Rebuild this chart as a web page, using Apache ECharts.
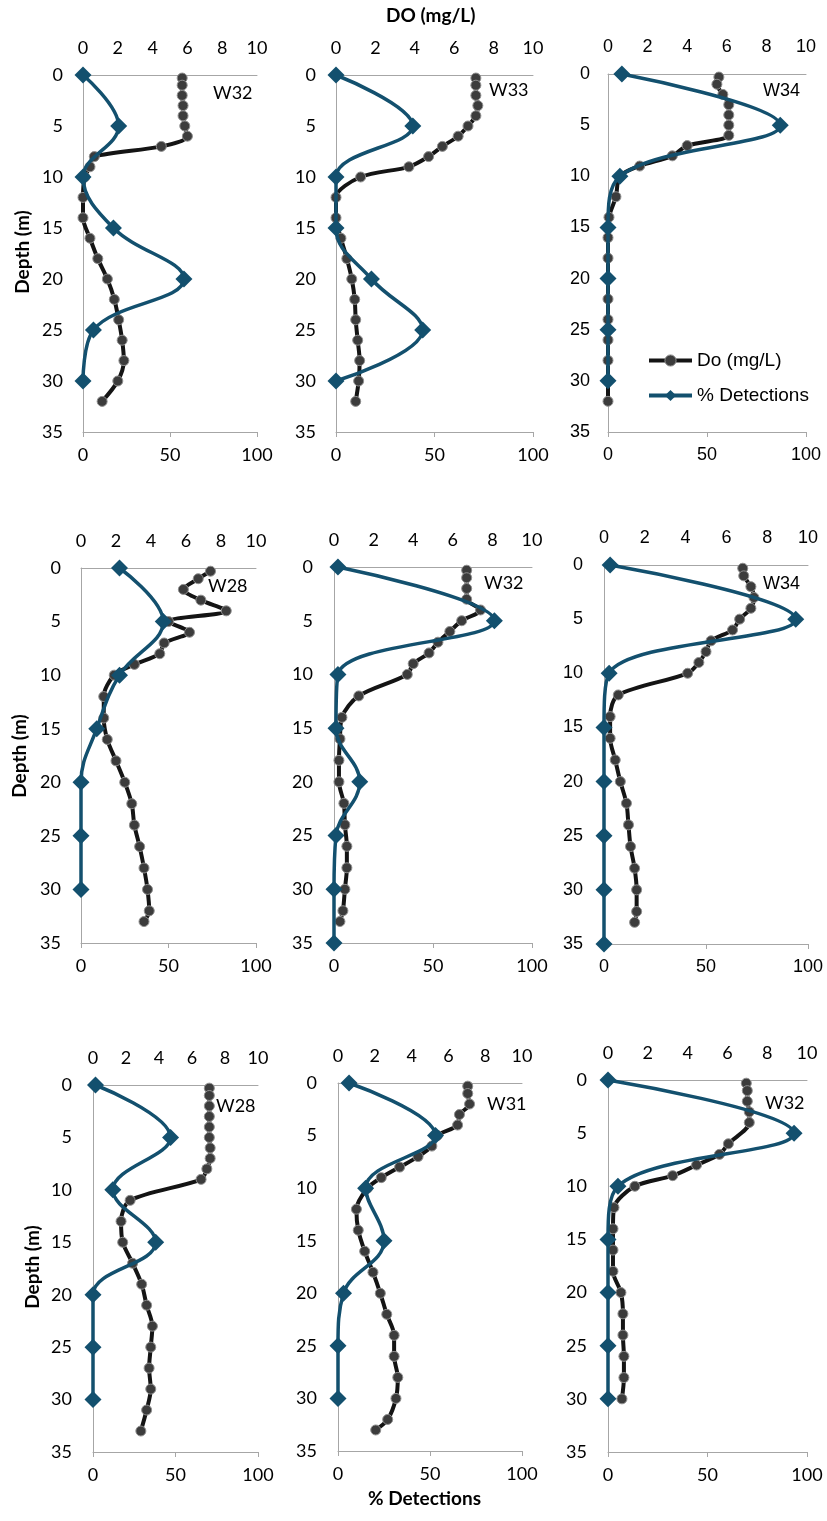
<!DOCTYPE html>
<html><head><meta charset="utf-8">
<script src="https://cdn.jsdelivr.net/npm/echarts@6/dist/echarts.min.js"></script>
<style>html,body{margin:0;padding:0;background:#fff}#c{width:827px;height:1521px}</style>
</head><body><div id="c"></div><script>
// ---- data ----
const panelLabels = ['W32','W33','W34','W28','W32','W34','W28','W31','W32'];
const doTicks = [0,2,4,6,8,10];
const detTicks = [0,50,100];
const depthTicks = [0,5,10,15,20,25,30,35];

const detDepths = [0,5,10,15,20,25,30];
const detDepths35 = [0,5,10,15,20,25,30,35];

const doDepthA = [0.3,1,2,3,4,5,6,7,8,9,10,12,14,16,18,20,22,24,26,28,30,32];
const doDepthB = [0.3,1,2,3,4,5,6,7,8,9,10,12,14,16,18,20,22,24,26,28,30,32,33];
const doDepthC = [0.3,1,2,3,4,5,6,7,8,9,11,13,15,17,19,21,23,25,27,29,31,33];
const doDepthD = [0.3,1,2,3,4,6,7,8,9,10,12,14,16,18,20,22,24,26,28,30];

const p1DO = [5.7,5.7,5.7,5.75,5.75,5.85,6.0,4.5,0.65,0.4,0.1,0.0,0.0,0.4,0.85,1.4,1.8,2.05,2.25,2.35,2.0,1.1];
const p1Det = [0,20.5,0,17.5,58,6,0];
const p2DO = [7.1,7.1,7.1,7.2,7.1,6.7,6.2,5.4,4.7,3.7,1.25,0,0,0.25,0.55,0.8,0.95,1.0,1.1,1.2,1.15,1.0];
const p2Det = [0,39,0,0,18,44,0];
const p3DO = [5.6,5.5,5.8,6.1,6.1,6.1,6.1,4.0,3.25,1.6,0.6,0.4,0.05,0,0,0,0,0,0,0,0,0];
const p3Det = [7,87,6,0,0,0,0];
const p4DO = [7.4,6.7,5.85,6.85,8.3,5.0,6.2,4.75,4.5,3.05,1.9,1.3,1.3,1.5,2.0,2.5,2.9,3.05,3.35,3.6,3.8,3.9,3.6];
const p4Det = [22,47,22,9,0,0,0];
const p5DO = [6.7,6.7,6.7,6.7,7.4,6.45,5.85,5.25,4.8,4.0,3.7,1.25,0.4,0.3,0.25,0.25,0.5,0.55,0.65,0.65,0.55,0.45,0.3];
const p5Det = [2,81,2,1,13,1,0,0];
const p6DO = [6.8,6.85,7.2,7.35,7.2,6.65,6.3,5.25,5.0,4.65,4.1,0.7,0.3,0.3,0.55,0.8,1.1,1.2,1.3,1.5,1.6,1.6,1.5];
const p6Det = [3,94,2.5,0,0,0,0,0];
const p7DO = [7.05,7.05,7.05,7.05,7.05,7.05,7.1,7.1,6.9,6.55,2.25,1.7,1.8,2.4,2.95,3.25,3.6,3.5,3.4,3.5,3.25,2.9];
const p7Det = [1.5,47,12,38,0,0,0];
const p8DO = [7.05,7.05,7.15,6.6,6.5,5.4,5.1,4.35,3.35,2.35,1.6,1.0,1.1,1.45,1.9,2.3,2.65,3.05,3.05,3.25,3.15,2.7,2.05];
const p8Det = [6,53,15,25,3,0,0];
const p9DO = [6.95,7.0,7.0,7.1,7.1,6.05,5.6,4.45,3.25,1.35,0.3,0.25,0.25,0.25,0.65,0.75,0.75,0.8,0.8,0.7];
const p9Det = [0,93.5,5,0,0,0,0];

const panels = [
  {doD: doDepthA, doV: p1DO, detD: detDepths, detV: p1Det},
  {doD: doDepthA, doV: p2DO, detD: detDepths, detV: p2Det},
  {doD: doDepthA, doV: p3DO, detD: detDepths, detV: p3Det},
  {doD: doDepthB, doV: p4DO, detD: detDepths, detV: p4Det},
  {doD: doDepthB, doV: p5DO, detD: detDepths35, detV: p5Det},
  {doD: doDepthB, doV: p6DO, detD: detDepths35, detV: p6Det},
  {doD: doDepthC, doV: p7DO, detD: detDepths, detV: p7Det},
  {doD: doDepthB, doV: p8DO, detD: detDepths, detV: p8Det},
  {doD: doDepthD, doV: p9DO, detD: detDepths, detV: p9Det}
];

// ---- layout ----
const layout = [
  {left:83, top:75, width:174, height:357, ym:20, font:'Lato', lx:233, ly:95},
  {left:336, top:75, width:197, height:357, ym:20, font:'Lato', lx:509, ly:92},
  {left:608, top:74, width:198, height:358, ym:18, font:'Liberation Sans', lx:783, ly:93},
  {left:81, top:568, width:175, height:375, ym:20, font:'Lato', lx:228, ly:588},
  {left:334, top:567, width:198, height:376, ym:21, font:'Lato', lx:504, ly:585},
  {left:604, top:565, width:204, height:379, ym:21, font:'Liberation Sans', lx:783, ly:586},
  {left:93, top:1085, width:165, height:367, ym:21, font:'Lato', lx:236, ly:1108},
  {left:338, top:1083, width:184, height:368, ym:21, font:'Lato', lx:507, ly:1106},
  {left:608, top:1080, width:199, height:372, ym:21, font:'Lato', lx:785, ly:1105}
];

const axisGray = '#a6a6a6';
const blue = '#13506e';
const grid = [], xAxis = [], yAxis = [], series = [], graphic = [];

layout.forEach((L, i) => {
  grid.push({left:L.left, top:L.top, width:L.width, height:L.height, containLabel:false});
  const lab = {fontFamily:L.font, fontSize:18, color:'#000'};
  xAxis.push({gridIndex:i, type:'value', position:'bottom', min:detTicks[0], max:detTicks[detTicks.length-1], interval:detTicks[1]-detTicks[0],
    axisLine:{show:true, onZero:false, lineStyle:{color:axisGray, width:1}},
    axisTick:{show:true, length:5, lineStyle:{color:axisGray}},
    splitLine:{show:false}, axisLabel:Object.assign({margin:14}, lab)});
  xAxis.push({gridIndex:i, type:'value', position:'top', min:doTicks[0], max:doTicks[doTicks.length-1], interval:doTicks[1]-doTicks[0],
    axisLine:{show:true, onZero:false, lineStyle:{color:axisGray, width:1}},
    axisTick:{show:false}, splitLine:{show:false}, axisLabel:Object.assign({margin:18}, lab)});
  yAxis.push({gridIndex:i, type:'value', inverse:true, min:depthTicks[0], max:depthTicks[depthTicks.length-1], interval:depthTicks[1]-depthTicks[0],
    axisLine:{show:true, onZero:false, lineStyle:{color:axisGray, width:1}},
    axisTick:{show:false}, splitLine:{show:false}, axisLabel:Object.assign({margin:L.ym}, lab)});
  const P = panels[i];
  series.push({name:'Do (mg/L)', type:'line', xAxisIndex:2*i+1, yAxisIndex:i, smooth:0.3, clip:false,
    data:P.doV.map((v,k)=>[v, P.doD[k]]),
    symbol:'circle', symbolSize:10, lineStyle:{color:'#141414', width:4},
    itemStyle:{color:'#3c3c3c', borderColor:'#8f8f8f', borderWidth:1}, z:2});
  series.push({name:'% Detections', type:'line', xAxisIndex:2*i, yAxisIndex:i, smooth:0.4, clip:false,
    data:P.detV.map((v,k)=>[v, P.detD[k]]),
    symbol:'diamond', symbolSize:17, lineStyle:{color:blue, width:3.5},
    itemStyle:{color:blue}, z:3});
  graphic.push({type:'text', left:L.lx - 20, top:L.ly - 11, style:{text:panelLabels[i], font:'18px "' + L.font + '"', fill:'#000'}});
});

graphic.push({type:'text', left:386, top:6, style:{text:'DO (mg/L)', font:'bold 19px Lato', fill:'#000'}});
graphic.push({type:'text', left:368, top:1489, style:{text:'% Detections', font:'bold 19px Lato', fill:'#000'}});
[[23,252],[20,756],[33,1267]].forEach(p => {
  graphic.push({type:'text', x:p[0], y:p[1], rotation:Math.PI/2, style:{text:'Depth (m)', font:'bold 19px Lato', fill:'#000', align:'center', verticalAlign:'middle'}});
});

const chart = echarts.init(document.getElementById('c'), null, {renderer:'canvas'});
chart.setOption({
  animation:false,
  backgroundColor:'#fff',
  grid, xAxis, yAxis, series, graphic,
  legend:{
    data:[
      {name:'Do (mg/L)', itemStyle:{color:'#3c3c3c', borderColor:'#8f8f8f', borderWidth:1}, lineStyle:{color:'#141414', width:4}},
      {name:'% Detections', itemStyle:{color:blue}, lineStyle:{color:blue, width:4}}
    ],
    orient:'vertical', left:642, top:346, itemWidth:43, itemHeight:14, itemGap:16,
    textStyle:{fontFamily:'Liberation Sans', fontSize:19, color:'#000'}}
});
</script></body></html>
